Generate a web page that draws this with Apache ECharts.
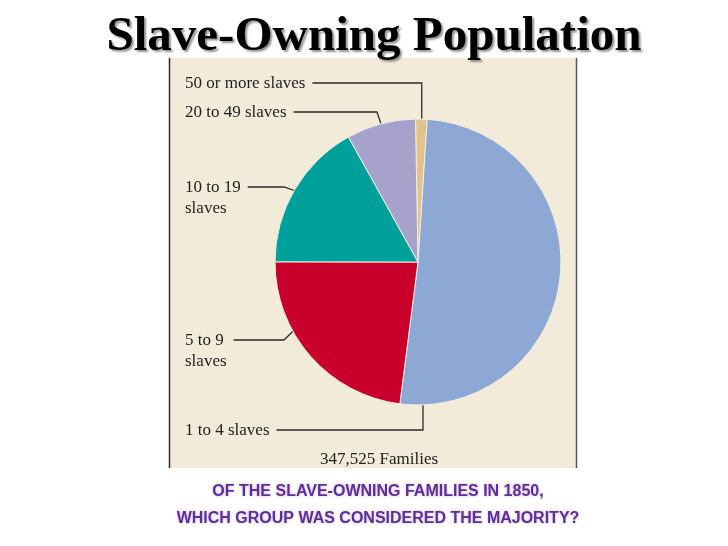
<!DOCTYPE html>
<html>
<head>
<meta charset="utf-8">
<script src="https://cdn.jsdelivr.net/npm/echarts@6/dist/echarts.min.js"></script>
<style>
html,body{margin:0;padding:0;background:#ffffff;}
#chart{width:728px;height:546px;}
</style>
</head>
<body>
<div id="chart"></div>
<script>
// ---- data ----
const categories = ['50 or more slaves', '1 to 4 slaves', '5 to 9\nslaves', '10 to 19\nslaves', '20 to 49 slaves'];
const shares = [1.3, 51.0, 23.0, 16.9, 7.8]; // percent of slave-owning families
const sliceColors = ['#e2c38c', '#8ea8d6', '#c8002b', '#00a19a', '#a7a2cc'];
const titleText = 'Slave-Owning Population';
const totalText = '347,525 Families';
const questionText = 'OF THE SLAVE-OWNING FAMILIES IN 1850,\nWHICH GROUP WAS CONSIDERED THE MAJORITY?';

// ---- layout / style ----
const CX = 418, CY = 262, R = 143;
const LABEL_X = 185;
const labelLineY = [83, 430, 340, 187, 112];
const anchorAngle = [1.5, 178, 241, 300, 345];
const bendDx = [0, 0, 9, 10, 4];

const chart = echarts.init(document.getElementById('chart'), null, {renderer: 'canvas'});

const option = {
  animation: false,
  backgroundColor: '#ffffff',
  graphic: [
    {type: 'rect', z: -10, shape: {x: 169, y: 58, width: 408, height: 410}, style: {fill: '#f2ebda'}},
    {type: 'line', z: -9, shape: {x1: 169.5, y1: 58, x2: 169.5, y2: 468}, style: {stroke: '#2b2b2b', lineWidth: 1.5}},
    {type: 'line', z: -9, shape: {x1: 576.5, y1: 58, x2: 576.5, y2: 468}, style: {stroke: '#555555', lineWidth: 1.5}}
  ],
  title: [
    {
      text: titleText, left: 369, top: 8, textAlign: 'center',
      textStyle: {
        fontFamily: 'Liberation Serif', fontWeight: 'bold', fontSize: 49, color: '#000000',
        textShadowColor: 'rgba(120,120,120,0.8)', textShadowOffsetX: 2, textShadowOffsetY: 2, textShadowBlur: 2
      }
    },
    {
      text: totalText, left: 315, top: 446,
      textStyle: {fontFamily: 'Liberation Serif', fontWeight: 'normal', fontSize: 17, color: '#222222'}
    },
    {
      text: questionText, left: 373, top: 473, textAlign: 'center',
      textStyle: {
        fontFamily: 'Liberation Sans', fontWeight: 'bold', fontSize: 16, lineHeight: 27,
        color: '#5e2f96', textShadowColor: 'rgba(200,170,235,0.9)', textShadowBlur: 3
      }
    }
  ],
  series: [{
    type: 'pie',
    center: [CX, CY],
    radius: [0, R],
    startAngle: 91,
    clockwise: true,
    silent: true,
    avoidLabelOverlap: false,
    itemStyle: {borderColor: '#f4eee2', borderWidth: 1},
    label: {
      show: true, position: 'outside',
      fontFamily: 'Liberation Serif', fontSize: 17, lineHeight: 21, color: '#1e1e1e',
      formatter: p => p.name
    },
    labelLine: {show: true, smooth: false, lineStyle: {color: '#2a2a2a', width: 1.3}},
    labelLayout: function (p) {
      const i = p.dataIndex;
      const a = anchorAngle[i] * Math.PI / 180;
      const ex = CX + R * Math.sin(a), ey = CY - R * Math.cos(a);
      const lineY = labelLineY[i];
      const textEnd = LABEL_X + p.labelRect.width + 7;
      return {
        x: LABEL_X, y: lineY - 10, align: 'left', verticalAlign: 'top',
        labelLinePoints: [[ex, ey], [ex - bendDx[i], lineY], [textEnd, lineY]]
      };
    },
    data: categories.map((c, i) => ({name: c, value: shares[i], itemStyle: {color: sliceColors[i]}}))
  }]
};
chart.setOption(option);
</script>
</body>
</html>
